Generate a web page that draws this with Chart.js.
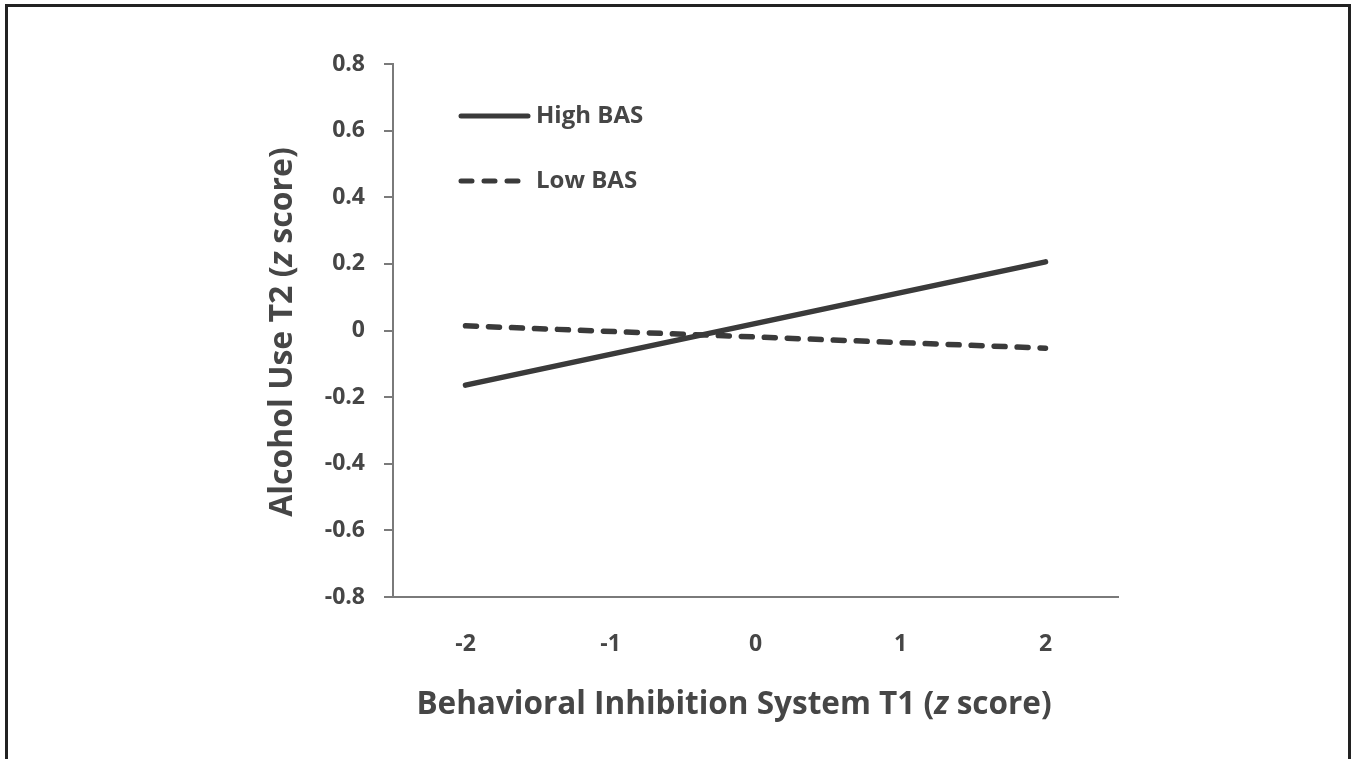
<!DOCTYPE html>
<html>
<head>
<meta charset="utf-8">
<script src="https://cdn.jsdelivr.net/npm/chart.js@4/dist/chart.umd.min.js"></script>
<style>
  html, body { margin: 0; padding: 0; background: #fff; }
  #wrap { position: relative; width: 1352px; height: 759px; overflow: hidden; }
  #frame { position: absolute; left: 5px; top: 4px; width: 1340px; height: 800px;
           border: 3px solid #222; border-bottom: none; box-sizing: content-box; }
  canvas { position: absolute; left: 0; top: 0; }
</style>
</head>
<body>
<div id="wrap">
  <div id="frame"></div>
  <canvas id="chart" width="1352" height="759"></canvas>
</div>
<script>
// data
const xLabels = ["-2", "-1", "0", "1", "2"];
const highBAS = [-0.164, null, null, null, 0.206];
const lowBAS = [0.014, null, null, null, -0.053];
const yMin = -0.8, yMax = 0.8, yStep = 0.2;

const FONT = "'Open Sans', 'DejaVu Sans', sans-serif";
const TXT = "#464646";
const LINE = "#3a3a3a";
const AXIS = "#7a7a7a";

// axis titles (with italic z) and the inset legend
const decorPlugin = {
  id: "decor",
  afterDraw(chart) {
    const ctx = chart.ctx;
    const ca = chart.chartArea;

    function mixed(parts, x, y, rot, size) {
      ctx.save();
      ctx.translate(x, y);
      if (rot) ctx.rotate(rot);
      ctx.fillStyle = TXT;
      ctx.textBaseline = "middle";
      let total = 0;
      parts.forEach(p => { ctx.font = p[1] + " " + size + "px " + FONT; total += ctx.measureText(p[0]).width; });
      let cx = -total / 2;
      parts.forEach(p => {
        ctx.font = p[1] + " " + size + "px " + FONT;
        ctx.fillText(p[0], cx, 0);
        cx += ctx.measureText(p[0]).width;
      });
      ctx.restore();
    }
    mixed([["Behavioral Inhibition System T1 (", "bold"], ["z", "italic bold"], [" score)", "bold"]], 734, 705, 0, 31.5);
    mixed([["Alcohol Use T2 (", "bold"], ["z", "italic bold"], [" score)", "bold"]], 283, 332, -Math.PI / 2, 32);

    // legend
    const items = [
      { label: "High BAS", dash: [] , y: ca.top + 52 },
      { label: "Low BAS", dash: [11, 12], y: ca.top + 117 }
    ];
    items.forEach(it => {
      ctx.save();
      ctx.strokeStyle = LINE;
      ctx.lineWidth = 5;
      ctx.lineCap = "round";
      ctx.setLineDash(it.dash);
      ctx.beginPath();
      ctx.moveTo(ca.left + 68, it.y);
      ctx.lineTo(ca.left + (it.dash.length ? 128 : 135), it.y);
      ctx.stroke();
      ctx.restore();
      ctx.save();
      ctx.fillStyle = TXT;
      ctx.font = "bold 24px " + FONT;
      ctx.textBaseline = "middle";
      ctx.fillText(it.label, ca.left + 143, it.y);
      ctx.restore();
    });
  }
};

new Chart(document.getElementById("chart"), {
  type: "line",
  data: {
    labels: xLabels,
    datasets: [
      {
        label: "High BAS",
        data: highBAS,
        borderColor: LINE,
        borderWidth: 5.5,
        borderCapStyle: "round",
        pointRadius: 0,
        spanGaps: true,
        fill: false
      },
      {
        label: "Low BAS",
        data: lowBAS,
        borderColor: LINE,
        borderWidth: 5.5,
        borderCapStyle: "round",
        borderDash: [11, 12],
        pointRadius: 0,
        spanGaps: true,
        fill: false
      }
    ]
  },
  options: {
    responsive: false,
    animation: false,
    layout: { padding: { top: 64, right: 234, left: 0, bottom: 0 } },
    plugins: {
      legend: { display: false },
      tooltip: { enabled: false }
    },
    scales: {
      x: {
        offset: true,
        grid: { display: true, drawOnChartArea: false, drawTicks: false },
        border: { color: AXIS, width: 2 },
        ticks: { color: TXT, font: { family: FONT, size: 23, weight: "bold" }, padding: 34 },
        afterFit(scale) { scale.height = 759 - 597; }
      },
      y: {
        min: yMin,
        max: yMax,
        grid: { display: true, drawOnChartArea: false, drawTicks: true, tickLength: 9, color: AXIS, lineWidth: 2 },
        border: { color: AXIS, width: 2 },
        ticks: {
          stepSize: yStep,
          color: TXT,
          font: { family: FONT, size: 23, weight: "bold" },
          padding: 19,
          callback: v => (Math.abs(v) < 1e-9 ? "0" : v.toFixed(1))
        },
        afterFit(scale) { scale.width = 393; }
      }
    }
  },
  plugins: [decorPlugin]
});
</script>
</body>
</html>
